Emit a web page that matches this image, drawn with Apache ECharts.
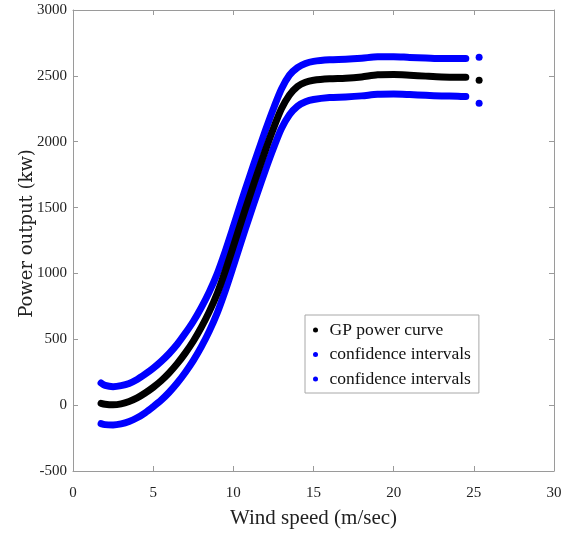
<!DOCTYPE html>
<html>
<head>
<meta charset="utf-8">
<script src="https://cdn.jsdelivr.net/npm/echarts@6/dist/echarts.min.js"></script>
<style>html,body{margin:0;padding:0;background:#fff;}#c{width:574px;height:534px;}</style>
</head>
<body>
<div id="c"></div>
<script>
// Wind speed (m/sec)
var windSpeed = [1.75, 2.0, 2.5, 3.0, 3.5, 4.0, 4.5, 5.0, 5.5, 6.0, 6.5, 7.0, 7.5, 8.0, 8.5, 9.0, 9.5, 10.0, 10.5, 11.0, 11.5, 12.0, 12.5, 13.0, 13.5, 14.0, 14.5, 15.0, 16, 17, 18, 19, 20, 21, 22, 23, 24, 24.5];
// GP power curve (kw)
var gpPower = [14, 7, 3, 10, 28, 55, 92, 135, 185, 245, 315, 395, 485, 590, 710, 850, 1020, 1205, 1395, 1580, 1760, 1935, 2100, 2250, 2355, 2420, 2452, 2467, 2478, 2482, 2492, 2508, 2510, 2505, 2498, 2492, 2490, 2490];
// upper confidence interval (kw)
var upperCI = [168, 150, 140, 148, 165, 195, 235, 280, 332, 392, 462, 545, 635, 740, 860, 1000, 1170, 1355, 1545, 1730, 1910, 2085, 2250, 2400, 2505, 2562, 2594, 2610, 2622, 2626, 2634, 2645, 2646, 2640, 2636, 2632, 2632, 2632];
// lower confidence interval (kw)
var lowerCI = [-140, -148, -150, -142, -124, -96, -58, -12, 38, 98, 168, 248, 338, 442, 562, 702, 870, 1055, 1245, 1430, 1610, 1785, 1950, 2100, 2205, 2270, 2303, 2320, 2335, 2340, 2348, 2360, 2362, 2358, 2352, 2348, 2346, 2343];
// isolated last point
var isoSpeed = [25.33];
var isoGP = [2467];
var isoUpper = [2641];
var isoLower = [2292];

var xTicks = {min: 0, max: 30, interval: 5};
var yTicks = {min: -500, max: 3000, interval: 500};
var legendLabels = {'GP power curve': 'GP power curve', 'upper': 'confidence intervals', 'lower': 'confidence intervals'};

function pairs(xs, ys) { return xs.map(function (x, i) { return [x, ys[i]]; }); }

var chart = echarts.init(document.getElementById('c'), null, {renderer: 'canvas'});
var axisGray = '#9a9a9a';
var serif = 'Liberation Serif';

function lineSeries(name, ys, color) {
  return {
    name: name, type: 'line', smooth: 0.3, showSymbol: false, symbol: 'none',
    data: pairs(windSpeed, ys),
    itemStyle: {color: color},
    lineStyle: {color: color, width: 7, cap: 'round', join: 'round'},
    emphasis: {disabled: true}, animation: false
  };
}
function dotSeries(name, ys, color) {
  return {
    name: name, type: 'scatter', symbol: 'circle', symbolSize: 7,
    data: pairs(isoSpeed, ys),
    itemStyle: {color: color, opacity: 1},
    emphasis: {disabled: true}, animation: false
  };
}

function sideAxis(extra) {
  var a = {
    type: 'value',
    axisLine: {show: true, onZero: false, lineStyle: {color: axisGray, width: 1}},
    axisTick: {show: true, inside: true, length: 5, lineStyle: {color: axisGray}},
    splitLine: {show: false}
  };
  for (var k in extra) a[k] = extra[k];
  return a;
}

chart.setOption({
  animation: false,
  backgroundColor: '#fff',
  grid: {left: 73, right: 20, top: 10, bottom: 63, containLabel: false},
  legend: {
    left: 305, top: 315, orient: 'vertical',
    data: [{name: 'GP power curve', icon: 'circle'}, {name: 'upper', icon: 'circle'}, {name: 'lower', icon: 'circle'}],
    formatter: function (n) { return legendLabels[n]; },
    itemWidth: 18, itemHeight: 5, itemGap: 4.5,
    padding: [5, 8, 4, 8],
    backgroundColor: '#fff', borderColor: '#a8a8a8', borderWidth: 1, borderRadius: 0,
    selectedMode: false,
    textStyle: {fontFamily: serif, fontSize: 17.5, color: '#111', lineHeight: 20}
  },
  xAxis: [
    sideAxis({
      min: xTicks.min, max: xTicks.max, interval: xTicks.interval,
      name: 'Wind speed (m/sec)', nameLocation: 'middle', nameGap: 37,
      nameTextStyle: {fontFamily: serif, fontSize: 21, color: '#222'},
      axisLabel: {fontFamily: serif, fontSize: 15, color: '#222', margin: 15}
    }),
    sideAxis({
      position: 'top', min: xTicks.min, max: xTicks.max, interval: xTicks.interval,
      axisLabel: {show: false}
    })
  ],
  yAxis: [
    sideAxis({
      min: yTicks.min, max: yTicks.max, interval: yTicks.interval,
      name: 'Power output (kw)', nameLocation: 'middle', nameGap: 37, nameRotate: 90,
      nameMoveOverlap: false,
      nameTextStyle: {fontFamily: 'DejaVu Serif', fontSize: 18, color: '#222', padding: [0, 0, 0, 14]},
      axisLabel: {fontFamily: serif, fontSize: 15, color: '#222', margin: 6, formatter: function (v) { return String(v); }}
    }),
    sideAxis({
      position: 'right', min: yTicks.min, max: yTicks.max, interval: yTicks.interval,
      axisLabel: {show: false}
    })
  ],
  series: [
    lineSeries('upper', upperCI, '#0000ff'),
    lineSeries('lower', lowerCI, '#0000ff'),
    lineSeries('GP power curve', gpPower, '#000000'),
    dotSeries('upper', isoUpper, '#0000ff'),
    dotSeries('lower', isoLower, '#0000ff'),
    dotSeries('GP power curve', isoGP, '#000000')
  ]
});
</script>
</body>
</html>
